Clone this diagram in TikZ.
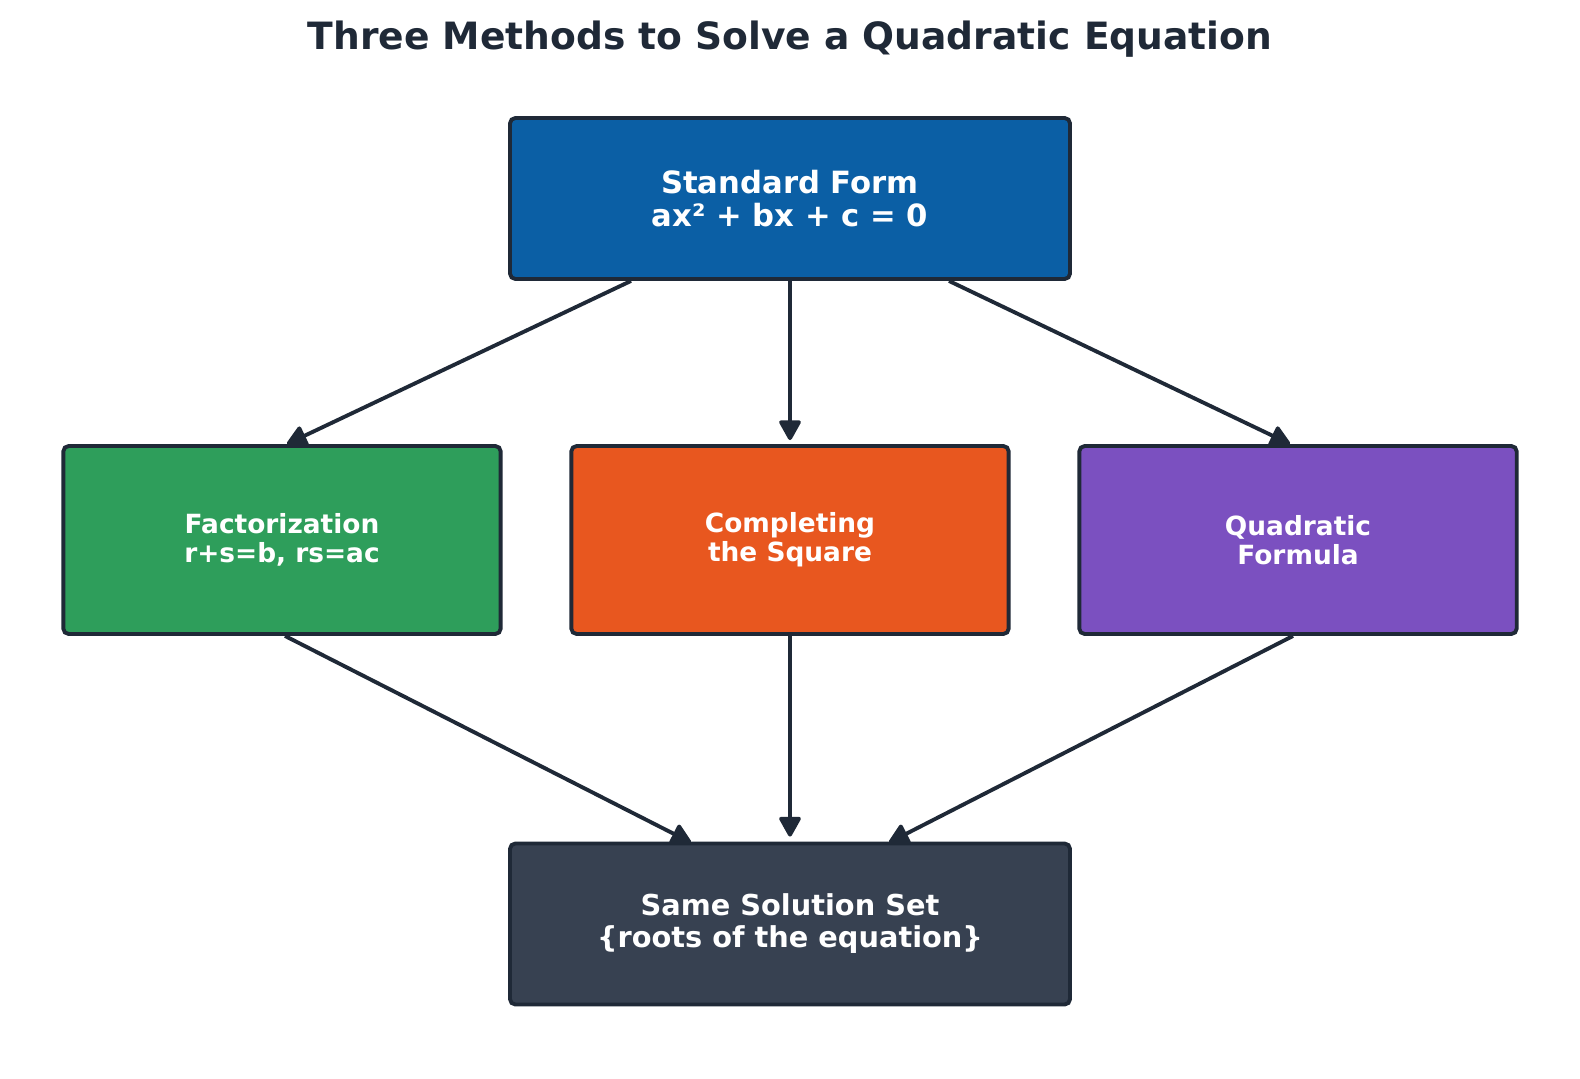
\documentclass[tikz,border=0pt]{standalone}
\usepackage{fontspec}
\setmainfont{DejaVu Sans}
\usetikzlibrary{arrows.meta,calc,backgrounds}
\definecolor{cblue}{HTML}{0B5FA5}
\definecolor{cgreen}{HTML}{2E9E5B}
\definecolor{corange}{HTML}{E8571F}
\definecolor{cpurple}{HTML}{7B50C0}
\definecolor{cdark}{HTML}{374151}
\definecolor{cborder}{HTML}{1F2937}
\definecolor{ctitle}{HTML}{1F2937}
\begin{document}
\begin{tikzpicture}[x=0.75pt,y=-0.75pt,
  box/.style={draw=cborder, line width=2.9pt, rounded corners=4pt, text=white,
    align=center, inner sep=0pt},
  bigbox/.style={box, minimum width=420pt, minimum height=120.75pt},
  midbox/.style={box, minimum width=328pt, minimum height=141pt,
    font=\fontsize{19.8pt}{22pt}\selectfont\bfseries},
  conn/.style={draw=cborder, line width=2.9pt,
    -{Triangle[length=16.5pt,width=17.5pt,round]}}]
\useasboundingbox (0,0) rectangle (1580,1078);
\node[anchor=base, text=ctitle, font=\fontsize{28.2pt}{32pt}\selectfont\bfseries]
  (title) at (790,49) {Three Methods to Solve a Quadratic Equation};
\node[bigbox, fill=cblue, font=\fontsize{23pt}{25pt}\selectfont\bfseries]
  (top) at (790,198.5) {Standard Form\\ax² + bx + c = 0};
\node[midbox, fill=cgreen] (fact) at (282,540) {Factorization\\r+s=b, rs=ac};
\node[midbox, fill=corange] (comp) at (790,540) {Completing\\the Square};
\node[midbox, fill=cpurple] (quad) at (1298,540) {Quadratic\\Formula};
\node[bigbox, fill=cdark, font=\fontsize{21.6pt}{24pt}\selectfont\bfseries]
  (sol) at (790,924) {Same Solution Set\\\{roots of the equation\}};
\begin{pgfonlayer}{background}
\fill[white] (0,0) rectangle (1580,1078);
\draw[conn] ($(top.south)+(-159,0)$) -- ($(fact.north)+(5,0)$);
\draw[conn] (top.south) -- ($(comp.north)+(0,-4)$);
\draw[conn] ($(top.south)+(159,0)$) -- ($(quad.north)+(-8,0)$);
\draw[conn] ($(fact.south)+(3,0)$) -- ($(sol.north)+(-99,1)$);
\draw[conn] (comp.south) -- ($(sol.north)+(0,-5)$);
\draw[conn] ($(quad.south)+(-5,0)$) -- ($(sol.north)+(99,1)$);
\end{pgfonlayer}
\end{tikzpicture}
\end{document}
